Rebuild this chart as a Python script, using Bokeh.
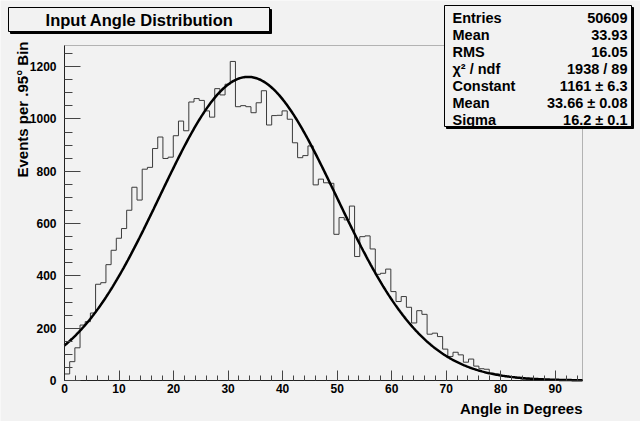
import numpy as np
from bokeh.plotting import figure
from bokeh.models import Range1d, SingleIntervalTicker, Label, BoxAnnotation
from bokeh.embed import file_html
from bokeh.resources import INLINE

# ---------------- data ----------------
bin_width = 0.95
x_min = 0.0
x_max = 95.0
counts = [25, 72, 125, 212, 225, 258, 368, 374, 443, 498,
          544, 581, 651, 739, 690, 808, 815, 887, 931, 849,
          854, 936, 992, 955, 1065, 1078, 1071, 1031, 1007, 1116,
          1092, 1133, 1220, 1047, 1051, 1047, 1024, 1062, 1108, 977,
          1013, 1014, 1031, 999, 909, 852, 860, 897, 748, 770,
          756, 754, 559, 623, 614, 667, 474, 550, 553, 503,
          406, 410, 426, 340, 302, 321, 280, 220, 267, 253,
          177, 181, 168, 120, 92, 108, 98, 70, 82, 55,
          45, 43, 28, 25, 18, 15, 12, 9, 6, 5,
          3, 2, 2, 1, 1, 0, 1, 0, 0, 0]
fit_constant = 1161.0
fit_mean = 33.66
fit_sigma = 16.2
stats_names = ["Entries", "Mean", "RMS", "\u03c7\u00b2 / ndf", "Constant", "Mean", "Sigma"]
stats_values = ["50609", "33.93", "16.05", "1938 / 89", "1161 \u00b1 6.3", "33.66 \u00b1 0.08", "16.2 \u00b1 0.1"]
title_text = "Input Angle Distribution"
x_title = "Angle in Degrees"
y_title = "Events per .95\u00b0 Bin"

# ---------------- layout ----------------
W, H = 640, 421
FL, FR, FT, FB = 64, 582, 45, 380   # where the data frame sits on the canvas (px)
BG = "#f2f2f2"
FONT = "Liberation Sans"
y_max = 1.05 * max(counts)

# ranges chosen so that the data frame (0..95, 0..y_max) sits at FL..FR / FB..FT
xs = (x_max - x_min) / (FR - FL)
ys = y_max / (FB - FT)
x_range = Range1d(x_min - FL * xs, x_max + (W - FR) * xs)
y_range = Range1d(-(H - FB) * ys, y_max + FT * ys)

p = figure(width=W, height=H, output_backend="svg", toolbar_location=None,
           x_range=x_range, y_range=y_range,
           min_border_left=0, min_border_right=0, min_border_top=0, min_border_bottom=0)
p.background_fill_color = BG
p.border_fill_color = BG
p.outline_line_color = None
p.xgrid.visible = False
p.ygrid.visible = False

# frame of the data area
p.add_layout(BoxAnnotation(left=x_min, right=x_max, bottom=0, top=y_max,
                           fill_alpha=0, line_color="#222222", line_width=1, level="underlay"))

# axes placed on the data frame
p.xaxis.ticker = SingleIntervalTicker(interval=10, num_minor_ticks=5)
p.yaxis.ticker = SingleIntervalTicker(interval=200, num_minor_ticks=4)
p.xaxis.fixed_location = 0
p.yaxis.fixed_location = x_min
p.xaxis.bounds = (x_min, x_max)
p.yaxis.bounds = (0, y_max)
for ax in (p.xaxis, p.yaxis):
    ax.axis_line_color = "#222222"
    ax.major_tick_line_color = "#444444"
    ax.minor_tick_line_color = "#444444"
    ax.major_tick_out = 0
    ax.minor_tick_out = 0
    ax.major_label_text_font = FONT
    ax.major_label_text_font_style = "bold"
    ax.major_label_text_font_size = "12px"
    ax.major_label_text_color = "black"
p.xaxis.major_tick_in = 10
p.xaxis.minor_tick_in = 5
p.yaxis.major_tick_in = 16
p.yaxis.minor_tick_in = 8
p.xaxis.major_label_standoff = 3
p.yaxis.major_label_standoff = 8

# histogram (step outline)
edges = x_min + bin_width * np.arange(len(counts) + 1)
step_y = list(counts) + [counts[-1]]
p.step(x=edges, y=step_y, mode="after", line_color="#3a3a3a", line_width=1)

# gaussian fit
xf = np.linspace(x_min, x_max, 500)
yf = fit_constant * np.exp(-0.5 * ((xf - fit_mean) / fit_sigma) ** 2)
p.line(xf, yf, line_color="black", line_width=2.5)


# ---------------- annotations in canvas pixels ----------------
def box(x0, y0, x1, y1):
    sh = BoxAnnotation(left=x0 + 2, right=x1 + 2, top=y0 + 2, bottom=y1 + 2,
                       left_units="canvas", right_units="canvas", top_units="canvas", bottom_units="canvas",
                       fill_color="black", fill_alpha=1.0, line_color="black", line_alpha=1.0, level="overlay")
    bx = BoxAnnotation(left=x0, right=x1, top=y0, bottom=y1,
                       left_units="canvas", right_units="canvas", top_units="canvas", bottom_units="canvas",
                       fill_color=BG, fill_alpha=1.0, line_color="black", line_width=1, line_alpha=1.0,
                       level="overlay")
    p.add_layout(sh)
    p.add_layout(bx)


def label(X, Y, text, size, align="left", angle=0.0):
    lab = Label(x=X, y=Y, x_units="canvas", y_units="canvas", text=text, text_font=FONT,
                text_font_style="bold", text_font_size=size, text_align=align, text_baseline="middle",
                text_color="black", angle=angle, level="overlay")
    p.add_layout(lab)


# title box
box(8, 7, 269, 31)
label(139, 19, title_text, "16.5px", align="center")

# stats box
box(444, 5, 631, 126)
row_y = [17, 34, 51, 68, 85, 102, 119]
for name, val, yy in zip(stats_names, stats_values, row_y):
    label(452, yy, name, "14.5px", align="left")
    label(627, yy, val, "14.5px", align="right")

# axis titles
label(582, 408, x_title, "15px", align="right")
label(22, 41, y_title, "15px", align="right", angle=np.pi / 2)

open("out.html", "w").write(file_html(p, INLINE))
